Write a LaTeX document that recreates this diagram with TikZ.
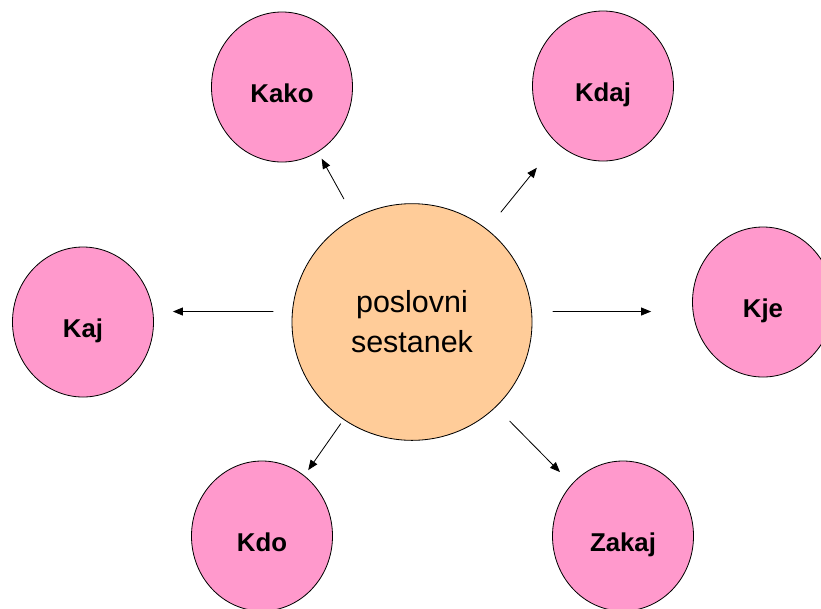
\documentclass[tikz,border=0pt]{standalone}
\usepackage{fontspec}
\setmainfont{Liberation Sans}
\usetikzlibrary{arrows.meta}
\usetikzlibrary{shapes.geometric}
\definecolor{rosepink}{RGB}{255,153,204}
\definecolor{peach}{RGB}{255,204,153}
\begin{document}
\begin{tikzpicture}[line cap=round,line join=round,x=0.03cm,y=-0.03cm,
  qbub/.style={ellipse,draw=black,line width=0.7pt,fill=rosepink,minimum width=4.23cm,minimum height=4.5cm,inner sep=0pt,text height=0.93cm,text depth=0cm,font=\fontsize{22}{26}\selectfont\bfseries},
  hub/.style={ellipse,draw=black,line width=0.7pt,fill=peach,minimum width=7.2cm,minimum height=7.1cm,inner sep=0pt,align=center,font=\fontsize{26}{34}\selectfont},
  arr/.style={-{Triangle[length=0.3cm,width=0.24cm]},line width=0.7pt}]
\useasboundingbox (0,0) rectangle (821,608);
\clip (0,0) rectangle (821,608);
\node[hub] (ps) at (412,322) {poslovni\\sestanek};
\node[qbub] (kako) at (282,87) {Kako};
\node[qbub] (kdaj) at (603,86) {Kdaj};
\node[qbub] (kaj) at (83,322) {Kaj};
\node[qbub] (kje) at (763,302) {Kje};
\node[qbub] (kdo) at (262,536) {Kdo};
\node[qbub] (zakaj) at (623,536) {Zakaj};
\draw[arr,shorten <=0.65cm,shorten >=0.23cm] (ps) -- (kako);
\draw[arr,shorten <=0.66cm,shorten >=0.95cm] (ps) -- (kdaj);
\draw[arr,shorten <=0.57cm,shorten >=0.57cm] (ps.175) -- (ps.175 -| kaj.east);
\draw[arr,shorten <=0.63cm,shorten >=1.23cm] (ps.5) -- (ps.5 -| kje.west);
\draw[arr,shorten <=0.15cm,shorten >=0.2cm] (ps) -- (kdo);
\draw[arr,shorten <=0.59cm,shorten >=0.5cm] (ps) -- (zakaj);
\end{tikzpicture}
\end{document}
